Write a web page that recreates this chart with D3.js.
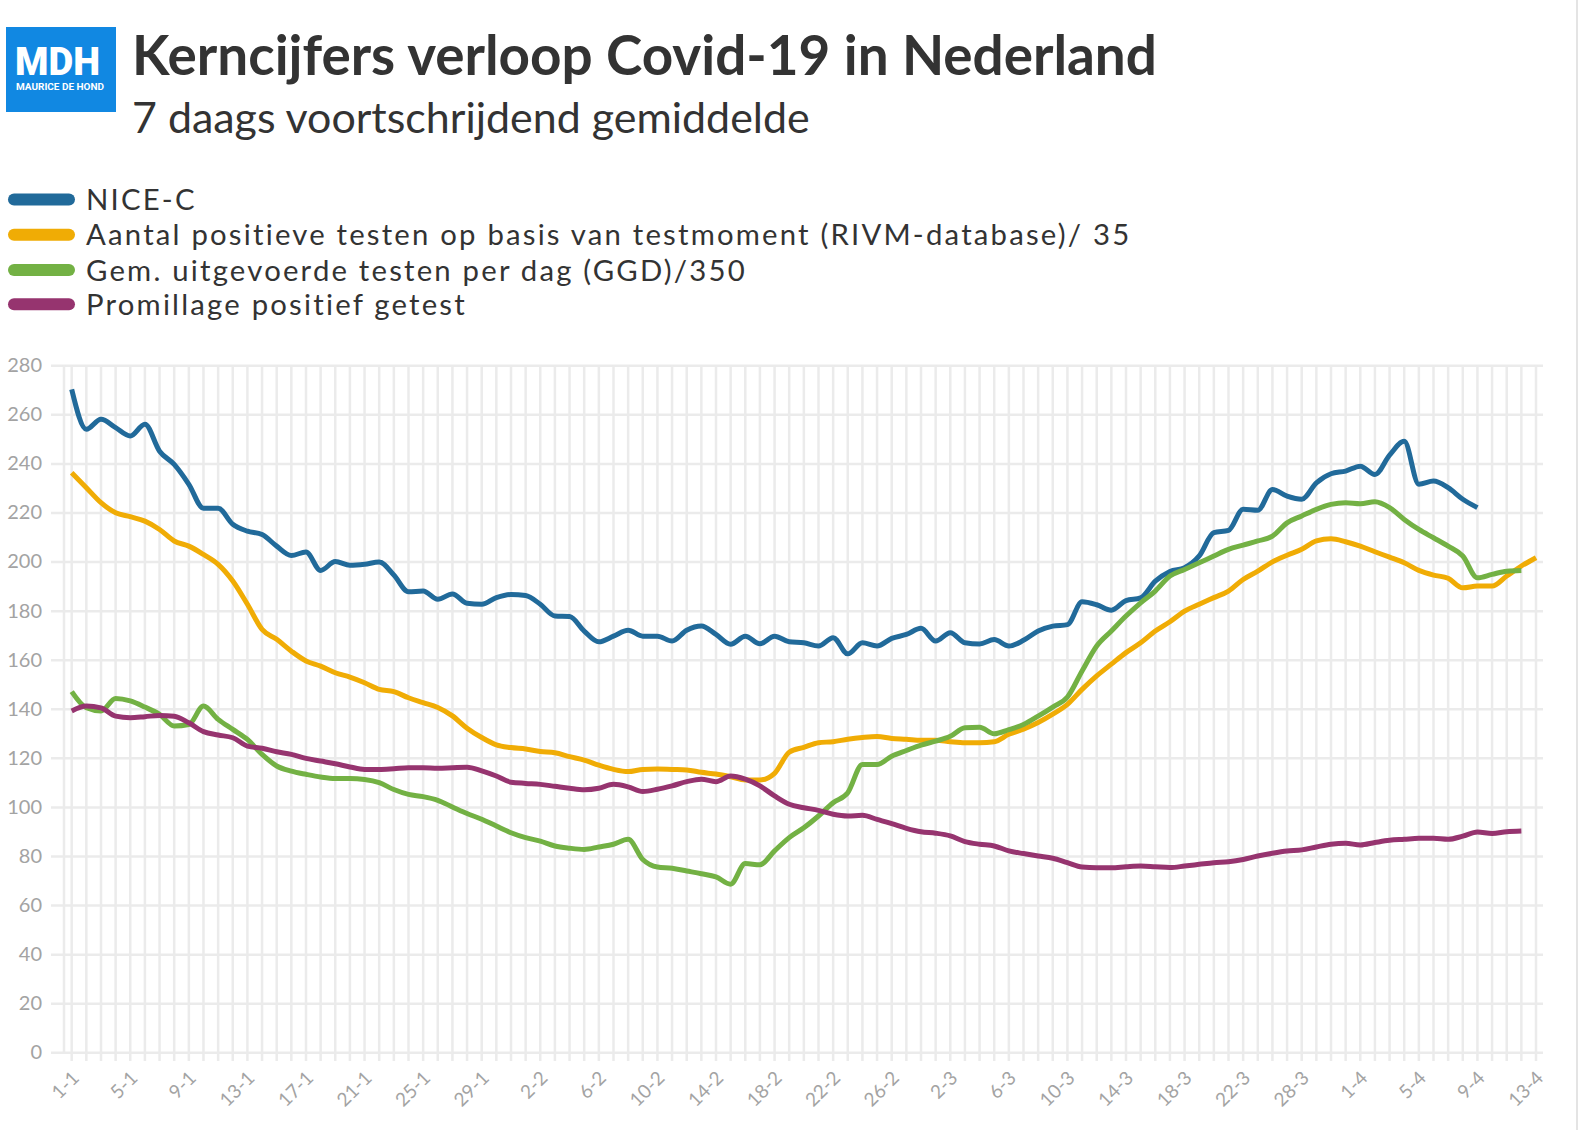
<!DOCTYPE html>
<html>
<head>
<meta charset="utf-8">
<script src="https://cdn.jsdelivr.net/npm/d3@7"></script>
<style>
  body { margin: 0; background: #fff; }
  text { font-family: Lato, "Open Sans", sans-serif; }
</style>
</head>
<body>
<svg id="chart" width="1580" height="1130"></svg>
<script>
// categories (dates as shown in the source, two days missing late March)
var dates = ["1-1","2-1","3-1","4-1","5-1","6-1","7-1","8-1","9-1","10-1","11-1","12-1","13-1","14-1","15-1","16-1",
  "17-1","18-1","19-1","20-1","21-1","22-1","23-1","24-1","25-1","26-1","27-1","28-1","29-1","30-1","31-1",
  "1-2","2-2","3-2","4-2","5-2","6-2","7-2","8-2","9-2","10-2","11-2","12-2","13-2","14-2","15-2","16-2",
  "17-2","18-2","19-2","20-2","21-2","22-2","23-2","24-2","25-2","26-2","27-2","28-2",
  "1-3","2-3","3-3","4-3","5-3","6-3","7-3","8-3","9-3","10-3","11-3","12-3","13-3","14-3","15-3","16-3",
  "17-3","18-3","19-3","20-3","21-3","22-3","25-3","26-3","27-3","28-3","29-3","30-3","31-3",
  "1-4","2-4","3-4","4-4","5-4","6-4","7-4","8-4","9-4","10-4","11-4","12-4","13-4"];

var tickLabels = ["1-1","5-1","9-1","13-1","17-1","21-1","25-1","29-1","2-2","6-2","10-2","14-2","18-2",
  "22-2","26-2","2-3","6-3","10-3","14-3","18-3","22-3","28-3","1-4","5-4","9-4","13-4"];

var yTicks = [0,20,40,60,80,100,120,140,160,180,200,220,240,260,280];

var nice = [270.2,253.9,258,254.6,251.2,256,245,239.6,231.5,221.7,221.7,215.2,212.4,211,206.3,202.5,
  203.9,196.4,200,198.5,198.9,199.8,194.5,187.7,188,184.6,186.8,183,182.6,185.3,186.6,186.2,182.6,
  177.8,177.6,171.7,167.3,169.6,172,169.6,169.6,167.6,172,173.7,170.3,166.3,169.6,166.5,169.6,167.3,
  166.9,165.6,169,162.4,166.9,165.6,168.7,170.3,172.8,167.6,171,166.9,166.4,168.2,165.6,167.9,171.7,
  173.7,174.3,183.6,182.4,180.2,184.1,185.2,192,196,197.5,202.3,211.8,212.7,221.3,220.9,229.4,226.7,
  225.4,232.1,235.8,236.9,238.9,235.5,243.4,249,231.5,232.8,230.1,225.4,222];

var positief = [236.2,230.1,224,219.9,218.3,216.5,213.1,208.4,206.3,202.9,198.9,192.1,182.6,172.4,168.3,
  163.5,159.5,157.4,154.7,152.9,150.6,147.9,147,144.5,142.5,140.5,137.1,132.1,128.3,125.3,124.2,123.6,
  122.6,122.1,120.5,119.1,117,115.3,114.4,115.3,115.5,115.3,115.1,114.1,113.4,112.3,111,111,113.7,122.3,
  124.3,126.2,126.6,127.6,128.3,128.7,127.9,127.6,127.2,127.2,126.6,126.2,126.2,126.6,129.6,131.7,134.4,
  137.8,141.8,147.9,153.4,158.2,162.9,166.9,171.7,175.5,179.8,182.6,185.3,188,192.7,196.1,199.9,202.6,
  205,208.4,209.3,208.1,206.3,204,201.8,199.5,196.4,194.5,193.2,189.3,190,190,194.1,198.2,201.6];

var getest = [147,140.4,139.1,144.2,143.2,140.7,137.7,133,133.6,141.1,135.7,131.6,127.5,121.4,116.7,114.6,
  113.3,112.2,111.6,111.6,111.2,109.9,107.1,105.1,104.2,102.7,100,97.3,95,92.2,89.5,87.5,86.1,84.1,83.2,
  82.7,83.7,84.8,86.8,78.6,75.5,75,73.9,72.8,71.5,68.5,76.9,76.4,82.1,87.5,91.5,96.3,101.7,105.8,117.3,
  117.3,120.7,123,125.2,126.8,128.8,132.3,132.5,129.8,131.5,133.6,137,140.7,144.8,155.4,165.6,171.7,
  177.8,183.2,188,194.1,196.8,199.5,202.3,205,206.7,208.4,210.4,215.8,218.6,221.3,223.3,224,223.6,224.4,
  222,217.2,213.1,209.7,206.3,202.3,193.4,194.8,196.1,196.4];

var promillage = [139.1,141.1,140.4,137,136.4,136.8,137.3,137,134.3,130.7,129.3,128.2,124.8,123.9,122.5,
  121.4,119.8,118.7,117.6,116.3,115.3,115.3,115.6,116,116,115.8,116,116.2,114.7,112.6,110.1,109.6,109.2,
  108.4,107.6,107,107.6,109.2,108.2,106.3,107.2,108.6,110.3,111.3,110.3,112.6,111.3,108.6,104.5,101.1,
  99.7,98.6,97,96.3,96.6,94.9,93.2,91.3,89.9,89.3,88.2,85.9,84.8,84.1,82.1,81,80,79.1,77.3,75.5,75.2,
  75.2,75.6,75.9,75.6,75.3,75.9,76.6,77.3,77.7,78.6,80,81.1,82,82.5,83.7,84.8,85.2,84.5,85.5,86.4,86.8,
  87.2,87.2,86.8,88.1,89.8,89.2,89.9,90.2];

var seriesNames = ["NICE-C",
  "Aantal positieve testen op basis van testmoment (RIVM-database)/ 35",
  "Gem. uitgevoerde testen per dag (GGD)/350",
  "Promillage positief getest"];
var seriesColors = ["#216a9a", "#f0ac05", "#73b144", "#96346f"];
var seriesData = [nice, positief, getest, promillage];

var svg = d3.select("#chart");

function fitText(sel, target) {
  var size = parseFloat(sel.attr("font-size"));
  var w = sel.node().getComputedTextLength();
  sel.attr("font-size", size * target / w);
}

// border on the right
svg.append("line").attr("x1", 1577).attr("x2", 1577).attr("y1", 0).attr("y2", 1130)
  .attr("stroke", "#e4e4e4").attr("stroke-width", 2);

// logo
svg.append("rect").attr("x", 6).attr("y", 27).attr("width", 110).attr("height", 85).attr("fill", "#1188e2");
var mdh = svg.append("text").attr("x", 15).attr("y", 75).attr("fill", "#fff")
  .attr("font-size", 36).attr("font-weight", 900).style("font-family", "Roboto, sans-serif").text("MDH");
fitText(mdh, 85);
var mdh2 = svg.append("text").attr("x", 16).attr("y", 90).attr("fill", "#fff")
  .attr("font-size", 8.5).attr("font-weight", 700).style("font-family", "Roboto, sans-serif").text("MAURICE DE HOND");
fitText(mdh2, 88);

// title + subtitle
var title = svg.append("text").attr("x", 132).attr("y", 75).attr("fill", "#333")
  .attr("font-size", 50).attr("font-weight", 700).text("Kerncijfers verloop Covid-19 in Nederland");
fitText(title, 1025);
var sub = svg.append("text").attr("x", 132).attr("y", 133).attr("fill", "#333")
  .attr("font-size", 40).text("7 daags voortschrijdend gemiddelde");
fitText(sub, 678);

// legend
var legendY = [199.5, 234.8, 270, 304.3];
var legend = svg.append("g");
legend.selectAll("line").data(seriesNames).enter().append("line")
  .attr("x1", 14).attr("x2", 69)
  .attr("y1", function(d, i) { return legendY[i]; })
  .attr("y2", function(d, i) { return legendY[i]; })
  .attr("stroke", function(d, i) { return seriesColors[i]; })
  .attr("stroke-width", 12).attr("stroke-linecap", "round");
legend.selectAll("text").data(seriesNames).enter().append("text")
  .attr("x", 86).attr("y", function(d, i) { return legendY[i] + 10.5; })
  .attr("fill", "#333").attr("font-size", 29.3).attr("letter-spacing", 2.2)
  .text(function(d) { return d; });

// scales
var x = d3.scalePoint().domain(dates).range([71.7, 1536]);
var y = d3.scaleLinear().domain([0, 280]).range([1052.3, 365.3]);

// horizontal grid + labels
var yAxis = d3.axisLeft(y).tickValues(yTicks).tickSize(-(1543 - 51)).tickPadding(9).tickSizeOuter(0);
var gy = svg.append("g").attr("transform", "translate(51,0)").call(yAxis);
gy.select(".domain").remove();
gy.selectAll(".tick line").attr("stroke", "#ebebeb").attr("stroke-width", 2.5);
gy.selectAll(".tick text").attr("fill", "#a3a3a3").attr("font-size", 20)
  .style("font-family", "Lato, sans-serif");

// vertical grid, one per day, with tick below the baseline
svg.append("g").selectAll("line").data(dates).enter().append("line")
  .attr("x1", function(d) { return x(d); }).attr("x2", function(d) { return x(d); })
  .attr("y1", y(280)).attr("y2", 1061)
  .attr("stroke", "#ebebeb").attr("stroke-width", 2.5);
svg.append("line").attr("x1", 64).attr("x2", 64).attr("y1", y(280)).attr("y2", y(0))
  .attr("stroke", "#ebebeb").attr("stroke-width", 2.5);

// x labels
var xAxis = d3.axisBottom(x).tickValues(tickLabels).tickSize(0).tickPadding(0);
var gx = svg.append("g").attr("transform", "translate(0,1052.3)").call(xAxis);
gx.select(".domain").remove();
gx.selectAll(".tick text").attr("fill", "#a3a3a3").attr("font-size", 19)
  .style("font-family", "Lato, sans-serif")
  .attr("text-anchor", "end").attr("dy", null).attr("y", null)
  .attr("transform", "translate(8,27) rotate(-45)");

// lines
var line = d3.line()
  .x(function(d, i) { return x(dates[i]); })
  .y(function(d) { return y(d); })
  .curve(d3.curveMonotoneX);

svg.append("g").selectAll("path").data(seriesData).enter().append("path")
  .attr("d", function(d) { return line(d); })
  .attr("fill", "none")
  .attr("stroke", function(d, i) { return seriesColors[i]; })
  .attr("stroke-width", 5)
  .attr("stroke-linejoin", "round");
</script>
</body>
</html>
